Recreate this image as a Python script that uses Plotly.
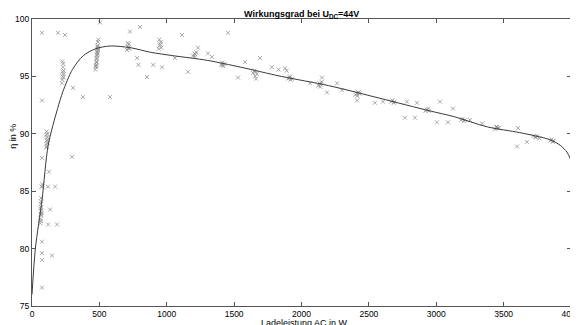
import plotly.graph_objects as go

# Fitted efficiency curve
fit_w = [0, 25, 75, 120, 190, 230, 300, 380, 470, 580, 730, 880, 1050, 1300, 1550,
         1850, 2200, 2580, 2950, 3130, 3380, 3620, 3840, 3920, 3970, 4000]
fit_eta = [76.0, 80.0, 84.3, 89.0, 92.2, 93.7, 95.6, 96.8, 97.4, 97.65, 97.5, 97.1, 96.8,
           96.4, 95.8, 95.0, 94.2, 93.1, 92.0, 91.5, 90.6, 90.1, 89.5, 89.0, 88.4, 87.7]

meas_w = [
    # ~65 W cluster
    62, 64, 66, 68, 70, 65, 67, 69, 63, 71, 66, 68, 72, 76,
    # ~110 W cluster
    105, 108, 110, 112, 114, 109, 111, 113, 107, 115,
    # ~230 W cluster
    222, 226, 228, 232, 235, 229, 231, 225, 233, 227,
    # ~485 W cluster
    470, 474, 478, 480, 482, 484, 486, 488, 490, 492, 476, 481, 485, 489, 479, 483,
    487, 491, 477, 486,
    # ~715 W
    705, 712, 718, 722, 710, 716,
    # ~950 W
    940, 948, 955, 960, 945, 952,
    # ~1210 W
    1195, 1205, 1212, 1220, 1208,
    # ~1420 W
    1405, 1412, 1420, 1428, 1415,
    # ~1655 W
    1640, 1650, 1660, 1668, 1655, 1662,
    # ~1915 W
    1900, 1910, 1920, 1928, 1915,
    # ~2140 W
    2125, 2135, 2142, 2150, 2138,
    # ~2420 W
    2400, 2410, 2420, 2430, 2415, 2425,
    # ~2680 W
    2665, 2675, 2685, 2690,
    # ~2930 W
    2920, 2930, 2940, 2945,
    # ~3200 W
    3185, 3195, 3205, 3212,
    # ~3450 W
    3435, 3445, 3455, 3465, 3450,
    # ~3750 W
    3720, 3735, 3750, 3765, 3740,
    # ~3860 W
    3845, 3855, 3865, 3870,
    # scattered points
    74, 193, 245, 727, 505, 853, 579, 378, 74, 304, 780, 790,
    74, 297, 126, 74, 119, 171, 134, 119, 186, 74, 74, 74, 148, 74,
    1306, 1336, 1580, 1780, 1830, 1890, 900, 965, 1158, 1232, 1455, 1113, 1692,
    1529, 1061, 801,
    1878, 2152, 2263, 2300, 2189, 2412, 2545, 2605, 2782, 2857, 2768, 2842, 2063,
    3028, 3124, 3005, 3087, 3340, 3607, 3673, 3600, 3250,
]
meas_eta = [
    82.2, 82.6, 83.0, 83.3, 83.6, 83.9, 84.1, 82.9, 83.5, 83.1, 82.4, 84.4, 85.4, 85.6,
    88.8, 89.1, 89.4, 89.7, 90.0, 90.2, 88.9, 89.5, 89.9, 89.2,
    94.4, 94.7, 95.0, 95.2, 95.5, 95.8, 96.1, 96.3, 94.9, 95.4,
    95.6, 95.9, 96.2, 96.5, 96.8, 97.1, 97.4, 97.7, 98.0, 98.2, 96.0, 96.6, 97.2, 97.5,
    96.3, 96.9, 97.6, 97.3, 95.8, 97.0,
    97.3, 97.6, 97.8, 97.4, 97.9, 97.5,
    97.4, 97.7, 98.0, 97.5, 98.2, 97.8,
    96.8, 97.0, 96.9, 97.1, 96.7,
    96.0, 96.2, 95.9, 96.1, 96.0,
    95.3, 95.5, 95.4, 95.2, 95.0, 94.8,
    94.8, 94.9, 94.7, 94.8, 95.0,
    94.2, 94.4, 94.3, 94.5, 94.1,
    93.4, 93.5, 93.6, 93.5, 93.3, 93.6,
    92.8, 92.9, 92.7, 92.8,
    92.0, 92.1, 92.2, 92.0,
    91.2, 91.3, 91.1, 91.2,
    90.4, 90.6, 90.5, 90.5, 90.6,
    89.8, 89.7, 89.8, 89.6, 89.7,
    89.4, 89.5, 89.3, 89.4,
    98.8, 98.8, 98.6, 98.9, 99.7, 94.95, 93.2, 93.2, 92.9, 94.0, 96.6, 96.0,
    87.9, 88.0, 86.7, 85.4, 85.4, 85.4, 83.4, 82.1, 82.1, 80.6, 79.6, 79.0, 79.4, 76.6,
    97.0, 96.7, 96.25, 95.8, 95.6, 95.5, 96.0, 95.8, 95.4, 97.5, 98.8, 98.6, 96.6,
    94.9, 96.6, 99.3,
    95.7, 94.9, 94.4, 93.8, 93.6, 92.9, 92.7, 92.8, 92.8, 92.7, 91.4, 91.4, 94.4,
    92.8, 92.2, 91.0, 91.0, 90.9, 90.5, 89.3, 88.9, 91.2,
]

x_ticks = [0, 500, 1000, 1500, 2000, 2500, 3000, 3500, 4000]
y_ticks = [75, 80, 85, 90, 95, 100]

fig = go.Figure()
fig.add_trace(go.Scatter(
    x=meas_w, y=meas_eta, mode="markers",
    marker=dict(symbol="x-thin", size=4, line=dict(width=1, color="rgba(140,140,140,0.75)")),
    showlegend=False, hoverinfo="skip"))
fig.add_trace(go.Scatter(
    x=fit_w, y=fit_eta, mode="lines",
    line=dict(color="#3a3a3a", width=1, shape="spline", smoothing=0.8),
    showlegend=False))

axis_common = dict(showgrid=False, zeroline=False, showline=True, linecolor="#555555",
                   linewidth=1, mirror="ticks", ticks="inside", ticklen=4,
                   tickcolor="#555555", automargin=False,
                   tickfont=dict(family="Liberation Sans", size=8.5, color="black"))
fig.update_xaxes(range=[0, 4000], tickvals=x_ticks, **axis_common)
fig.update_yaxes(range=[75, 100], tickvals=y_ticks, **axis_common)

fig.update_layout(
    width=578, height=325,
    margin=dict(l=24, r=15, t=11, b=27, autoexpand=False),
    paper_bgcolor="white", plot_bgcolor="white",
    annotations=[
        dict(text="<b>Wirkungsgrad bei U<sub>DC</sub>=44V</b>", xref="paper", yref="paper",
             x=0.5, y=1, yshift=11, xanchor="center", yanchor="top", showarrow=False,
             borderpad=0, font=dict(family="Liberation Sans", size=9, color="black")),
        dict(text="Ladeleistung AC in W", xref="paper", yref="paper", x=0.505, y=0,
             yshift=-11, xanchor="center", yanchor="top", showarrow=False, borderpad=0,
             font=dict(family="Liberation Sans", size=9, color="black")),
        dict(text="η in %", xref="paper", yref="paper", x=0, xshift=-19, y=0.59,
             xanchor="center", yanchor="middle", textangle=-90, showarrow=False,
             borderpad=0, font=dict(family="Liberation Sans", size=9, color="black")),
    ],
)
fig.write_html("out.html")
